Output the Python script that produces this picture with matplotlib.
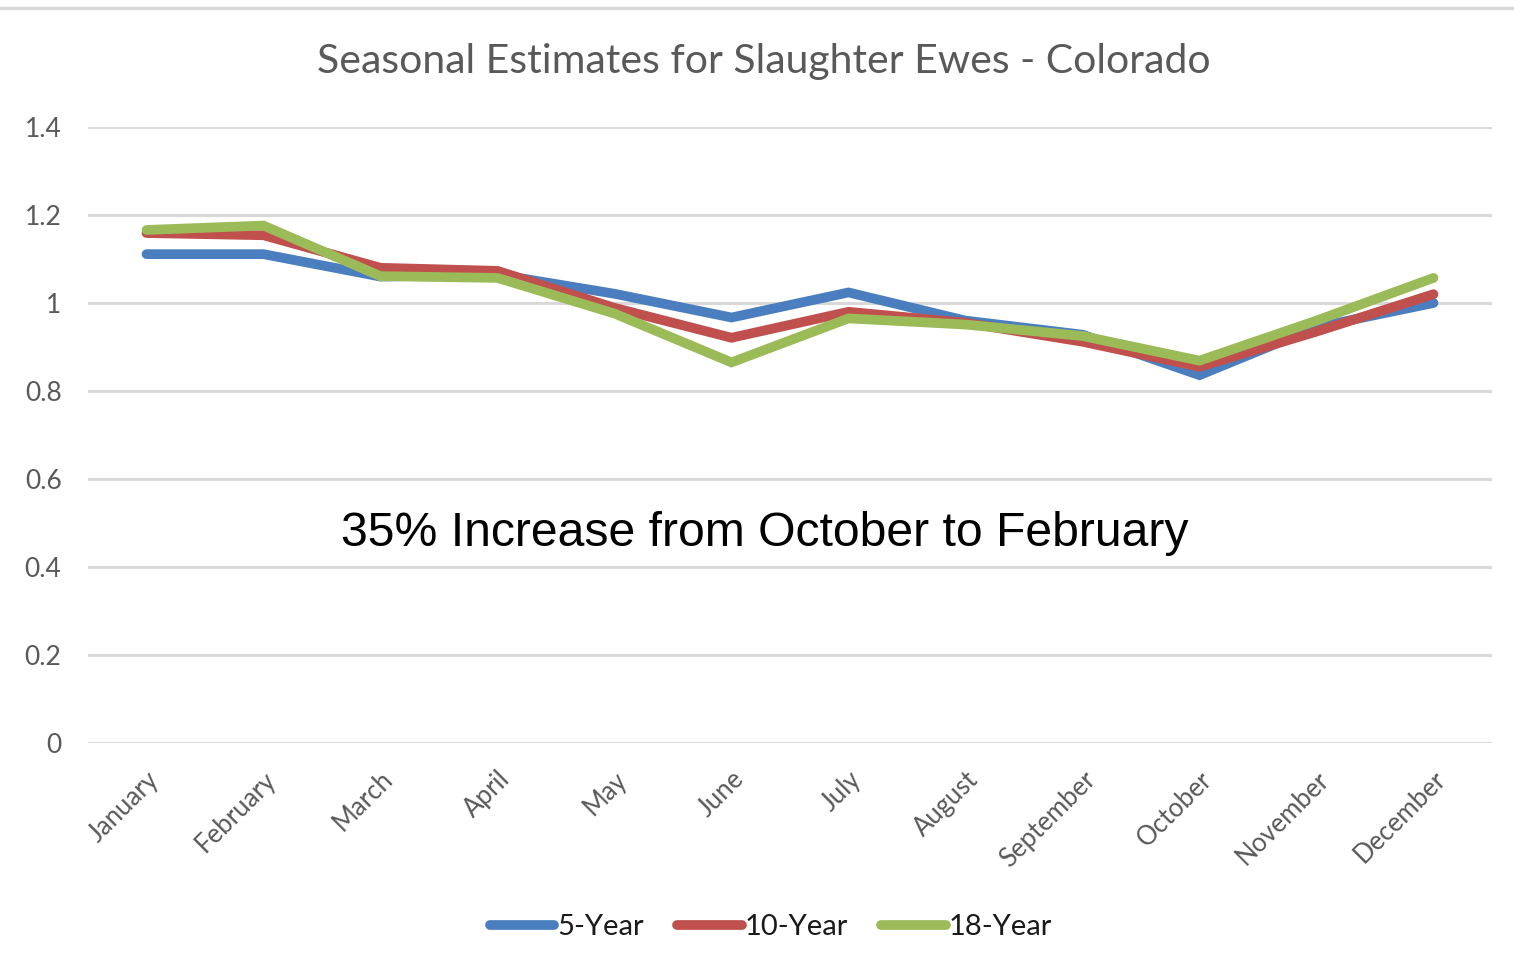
import matplotlib
matplotlib.use("Agg")
import matplotlib.pyplot as plt
from matplotlib.lines import Line2D

months = ["January", "February", "March", "April", "May", "June", "July",
          "August", "September", "October", "November", "December"]
five_year = [1.111, 1.111, 1.060, 1.065, 1.021, 0.967, 1.024, 0.960, 0.928, 0.836, 0.945, 1.000]
ten_year = [1.159, 1.154, 1.080, 1.073, 0.989, 0.921, 0.980, 0.955, 0.912, 0.855, 0.935, 1.020]
eighteen_year = [1.166, 1.176, 1.061, 1.057, 0.976, 0.865, 0.965, 0.951, 0.925, 0.869, 0.960, 1.057]
series_names = ["5-Year", "10-Year", "18-Year"]
yticks = [0, 0.2, 0.4, 0.6, 0.8, 1.0, 1.2, 1.4]
ytick_labels = ["0", "0.2", "0.4", "0.6", "0.8", "1", "1.2", "1.4"]

colors = ["#4a7ebf", "#c0504d", "#9bbb59"]

W, H = 1514, 972
fig = plt.figure(figsize=(W / 100, H / 100), dpi=100)
fig.patch.set_facecolor("white")

ax = fig.add_axes([88 / W, 1 - 743 / H, (1492 - 88) / W, (743 - 127) / H])
x = list(range(len(months)))
for vals, name, c in zip([five_year, ten_year, eighteen_year], series_names, colors):
    ax.plot(x, vals, color=c, lw=7, solid_capstyle="round", solid_joinstyle="miter", label=name, zorder=3)

ax.set_xlim(-0.5, 11.5)
ax.set_ylim(0, 1.4)
ax.set_yticks(yticks)
ax.set_yticklabels(ytick_labels, family="Lato", fontsize=19, color="#595959")
ax.set_xticks(x)
ax.set_xticklabels(months, rotation=45, ha="right", rotation_mode="anchor",
                   family="Lato", fontsize=18.5, color="#595959")
ax.tick_params(axis="both", length=0)
ax.tick_params(axis="y", pad=19)
ax.tick_params(axis="x", pad=17)
for s in ax.spines.values():
    s.set_visible(False)
ax.grid(axis="y", color="#d9d9d9", lw=2.2, zorder=0)
ax.set_axisbelow(True)

fig.text(764 / W, 1 - 61 / H, "Seasonal Estimates for Slaughter Ewes - Colorado",
         ha="center", va="center", family="Lato", fontsize=29.5, color="#595959")

ax.text(765 / W, 1 - 533 / H, "35% Increase from October to February",
        transform=fig.transFigure, ha="center", va="center",
        family="Liberation Sans", fontsize=34.7, color="black")

leg = fig.legend(loc="center", bbox_to_anchor=(771 / W, 1 - 927 / H), ncol=3,
                 frameon=False, prop={"family": "Lato", "size": 21},
                 handlelength=2.2, handletextpad=0.1, columnspacing=1.15)
for t in leg.get_texts():
    t.set_color("#1a1a1a")

fig.add_artist(Line2D([0, 1], [1 - 8 / H, 1 - 8 / H], transform=fig.transFigure,
                      color="#d9d9d9", lw=2.5))

fig.savefig("out.png", dpi=100)
